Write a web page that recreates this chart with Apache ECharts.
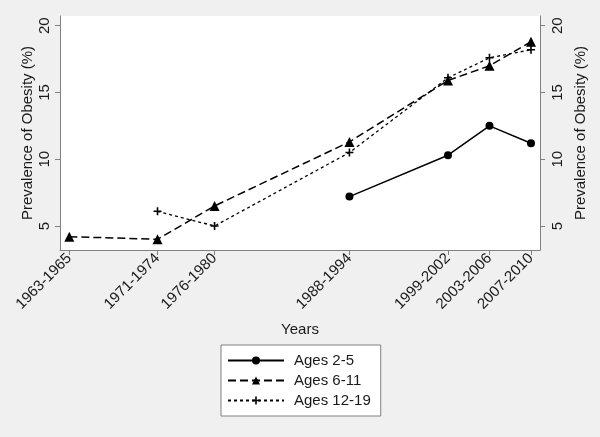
<!DOCTYPE html>
<html>
<head>
<meta charset="utf-8">
<script src="https://cdn.jsdelivr.net/npm/echarts@6/dist/echarts.min.js"></script>
<style>
html,body{margin:0;padding:0;background:#f0f0f0;}
#c{width:600px;height:437px;}
</style>
</head>
<body>
<div id="c"></div>
<script>
// Survey periods (x positions = midpoint of each period)
var periods = ['1963-1965','1971-1974','1976-1980','1988-1994','1999-2002','2003-2006','2007-2010'];
var yTicks = [5, 10, 15, 20];
// Prevalence of obesity (%), null = not measured
var ages2to5   = [null, null, null, 7.2, 10.3, 12.5, 11.2];
var ages6to11  = [4.2, 4.0, 6.5, 11.3, 15.9, 17.0, 18.8];
var ages12to19 = [null, 6.1, 5.0, 10.5, 16.1, 17.6, 18.2];

var mids = periods.map(function(p){var a=p.split('-');return (Number(a[0])+Number(a[1]))/2;});
function pairs(vals){
  var out=[];
  vals.forEach(function(v,i){ if(v!==null) out.push([mids[i], v]); });
  return out;
}
var labelOf = {};
mids.forEach(function(m,i){ labelOf[m]=periods[i]; });

var FONT = 'Liberation Sans, Arial, sans-serif';
var AXC = '#808080';
var TXT = '#1a1a1a';

function yAxis(pos, gap, margin){
  return {
    type:'value', position: pos, min:3.2, max:20.73,
    name:'Prevalence of Obesity (%)', nameLocation:'middle', nameGap: gap,
    nameMoveOverlap:false,
    nameTextStyle:{fontFamily:FONT,fontSize:15,color:TXT},
    axisLine:{show:true,lineStyle:{color:AXC,width:1}},
    axisTick:{show:true,length:5,customValues:yTicks,lineStyle:{color:AXC}},
    axisLabel:{rotate:90,fontFamily:FONT,fontSize:15,color:TXT,margin:margin,customValues:yTicks},
    splitLine:{show:false}
  };
}

var chart = echarts.init(document.getElementById('c'), null, {renderer:'canvas'});
chart.setOption({
  backgroundColor:'#f0f0f0',
  animation:false,
  grid:{left:60,right:60,top:16,bottom:187,show:true,backgroundColor:'#fff',borderWidth:0},
  xAxis:{
    type:'value', min:1963.1, max:2009.37,
    name:'Years', nameLocation:'middle', nameGap:72, nameMoveOverlap:false,
    nameTextStyle:{fontFamily:FONT,fontSize:15,color:TXT},
    axisLine:{show:true,lineStyle:{color:AXC,width:1}},
    axisTick:{show:true,length:5,customValues:mids,lineStyle:{color:AXC}},
    axisLabel:{rotate:45,fontFamily:FONT,fontSize:15,color:TXT,margin:6,customValues:mids,
      formatter:function(v){return labelOf[v]||'';}},
    splitLine:{show:false}
  },
  yAxis:[yAxis('left', 25, 8), yAxis('right', 33, 10)],
  legend:{
    orient:'vertical', left:221, top:345,
    backgroundColor:'#fff', borderColor:'#808080', borderWidth:1,
    padding:[8,10,8,6], itemGap:5, itemWidth:56, itemHeight:10,
    textStyle:{fontFamily:FONT,fontSize:15,color:TXT,padding:[0,0,0,5]},
    data:['Ages 2-5','Ages 6-11','Ages 12-19']
  },
  series:[
    {name:'Ages 2-5', type:'line', data:pairs(ages2to5), symbol:'circle', symbolSize:8,
      lineStyle:{color:'#000',width:1.5,type:'solid'}, itemStyle:{color:'#000'}},
    {name:'Ages 6-11', type:'line', data:pairs(ages6to11), symbol:'triangle', symbolSize:10,
      lineStyle:{color:'#000',width:1.5,type:[8,4]}, itemStyle:{color:'#000'}},
    {name:'Ages 12-19', type:'line', data:pairs(ages12to19),
      symbol:'path://M4,0h2v4h4v2h-4v4h-2v-4h-4v-2h4z', symbolSize:8,
      lineStyle:{color:'#000',width:1.3,type:[3,3]}, itemStyle:{color:'#000'}}
  ]
});
</script>
</body>
</html>
